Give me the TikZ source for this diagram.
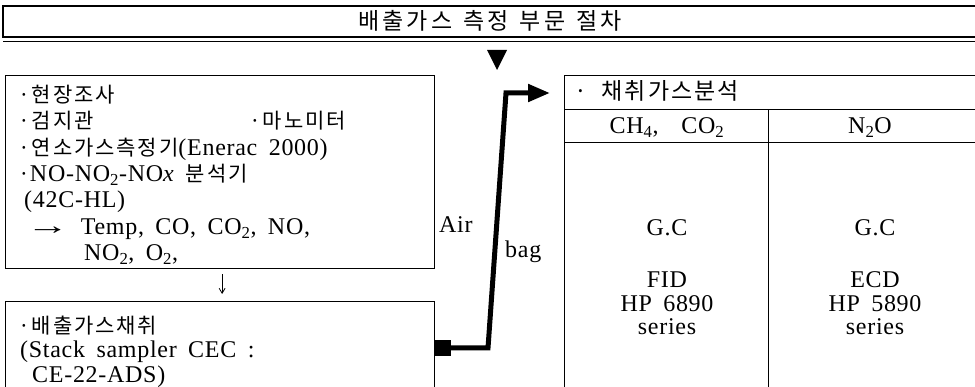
\documentclass[tikz,border=0pt]{standalone}
\usepackage{graphicx}
\usepackage{fontspec}
\setmainfont{Liberation Serif}[LetterSpace=3,WordSpace=1.7]
\newfontfamily\kr[LetterSpace=9]{Noto Sans CJK KR}
\newfontfamily\krtitle[LetterSpace=14,WordSpace=1.3]{Noto Sans CJK KR}
\newcommand\krt[1]{{\fontsize{21}{26}\selectfont\kr #1}}
\usetikzlibrary{arrows.meta}
\begin{document}
\begin{tikzpicture}[x=1pt,y=-1pt,
  boxline/.style={draw, line width=1.2pt, inner sep=0pt, anchor=north west},
  txt/.style={anchor=base west, inner sep=0pt, font=\fontsize{24}{26}\selectfont},
  ctxt/.style={anchor=base, inner sep=0pt, font=\fontsize{24}{26}\selectfont},
  conn/.style={line width=5pt, -{Triangle[length=22pt,width=17pt]}}
]
\useasboundingbox (0,0) rectangle (975,387);
\clip (0,0) rectangle (975,387);
% title bar
\draw[line width=1.2pt] (980,6) -- (3,6) -- (3,38);
\draw[line width=2.6pt] (3,37) -- (980,37);
\draw[line width=0.8pt] (3,41) -- (980,41);
\node[inner sep=0pt, font=\fontsize{23}{26}\selectfont\krtitle] (title) at (490,21) {배출가스 측정 부문 절차};
\fill (487,50) -- (507,50) -- (497,70) -- cycle;
% left boxes
\node[boxline, minimum width=429pt, minimum height=193pt] (box1) at (5,75) {};
\node[boxline, minimum width=429pt, minimum height=100pt] (box2) at (5,301) {};
\node[txt] (l1) at (18,103) {\krt{·현장조사}};
\node[txt] (l2) at (18,129) {\krt{·검지관}};
\node[txt] (l2b) at (249,129) {\krt{·마노미터}};
\node[txt] (l3) at (18,155.5) {\krt{·연소가스측정기}(Enerac 2000)};
\node[txt] (l4) at (18,182) {\krt{·}NO-NO\textsubscript{2}-NO\textit{x} \krt{분석기}};
\node[txt] (l5) at (24,207.5) {(42C-HL)};
\node[txt] (l6) at (26,235) {\scalebox{1.8}[1.1]{→} Temp, CO, CO\textsubscript{2}, NO,};
\node[txt] (l7) at (84,261) {NO\textsubscript{2}, O\textsubscript{2},};
\node[txt] (m1) at (18,334) {\krt{·배출가스채취}};
\node[txt] (m2) at (20,358) {(Stack sampler CEC :};
\node[txt] (m3) at (32,382) {CE-22-ADS)};
\draw[line width=0.8pt, -{Straight Barb[length=5pt,width=6pt]}, shorten <=5pt, shorten >=7pt]
  ([xshift=2pt]box1.south) -- ([xshift=2pt]box2.north);
% right table
\node[boxline, minimum width=420pt, minimum height=34pt] (r1) at (564,75) {};
\node[boxline, minimum width=204pt, minimum height=33pt] (c1) at (564,109) {};
\node[boxline, minimum width=216pt, minimum height=33pt] (c2) at (768,109) {};
\node[boxline, minimum width=204pt, minimum height=260pt] (d1) at (564,142) {};
\node[boxline, minimum width=216pt, minimum height=260pt] (d2) at (768,142) {};
\node[txt] (rt) at (574,100) {\fontsize{23}{26}\selectfont\kr ·\ \ 채취가스분석};
\node[ctxt] (h1) at (667,134) {CH\textsubscript{4}, \ CO\textsubscript{2}};
\node[ctxt] (h2) at (870,134) {N\textsubscript{2}O};
\node[ctxt] (g1) at (667,236) {G.C};
\node[ctxt] (f1) at (667,288) {FID};
\node[ctxt] (p1) at (667,312) {HP 6890};
\node[ctxt] (s1) at (667,335) {series};
\node[ctxt] (g2) at (875,236) {G.C};
\node[ctxt] (f2) at (875,288) {ECD};
\node[ctxt] (p2) at (875,312) {HP 5890};
\node[ctxt] (s2) at (875,335) {series};
% connector
\node[fill, inner sep=0pt, minimum width=17pt, minimum height=16pt] (sq) at (442.5,348) {};
\coordinate (b1) at (488,348);
\coordinate (b2) at (506,93);
\draw[conn, shorten >=14pt] (sq.center) -- (b1) -- (b2) -- (b2 -| r1.west);
\node[txt] (air) at (439,233) {Air};
\node[txt] (bag) at (505,258) {bag};
\end{tikzpicture}
\end{document}
